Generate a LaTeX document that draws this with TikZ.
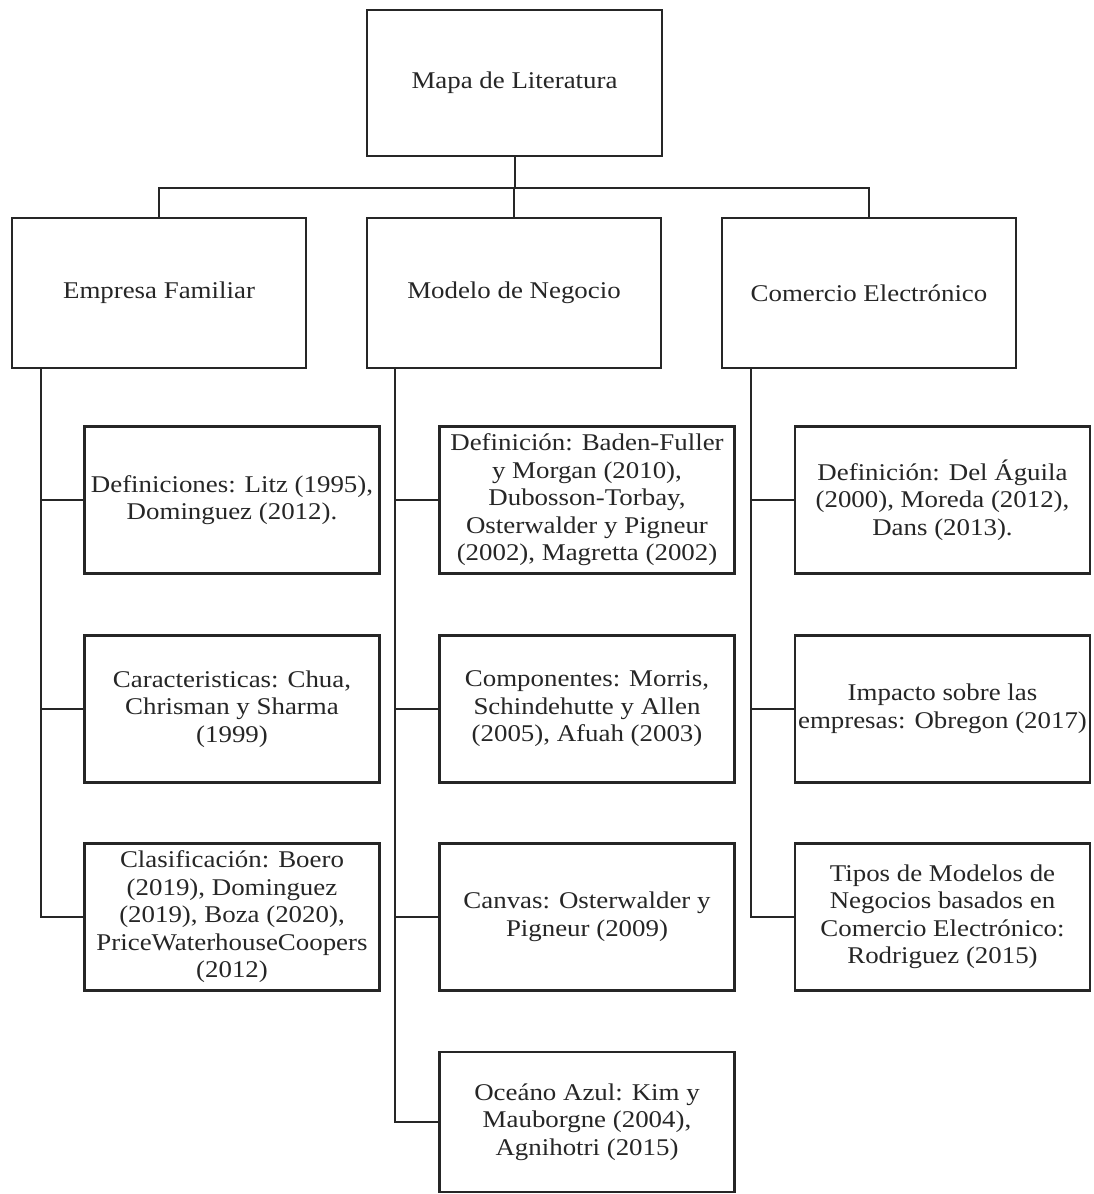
\documentclass[tikz,border=0pt]{standalone}
\usepackage{fontspec}
\setmainfont[FakeStretch=1.12]{Liberation Serif}
\begin{document}
\begin{tikzpicture}[x=1pt,y=-1pt,
  box/.style={draw=black!85, line width=2.2pt, fill=white, align=center, inner sep=0pt,
    font=\fontsize{24}{27.5}\selectfont, text=black!85},
  top/.style={box, minimum width=295pt, minimum height=146pt},
  head/.style={box, minimum width=294pt, minimum height=150pt},
  leaf/.style={box, minimum width=295pt, minimum height=147pt},
  link/.style={draw=black!85, line width=2pt}]
\useasboundingbox[fill=white] (0,0) rectangle (1094,1194);
\node[top] (root) at (514.5,83) {Mapa de Literatura};
\coordinate (bar) at (0,188);
\node[head] (emp) at (159,293) {Empresa Familiar};
\node[head] (mod) at (514,293) {Modelo de Negocio};
\node[head] (com) at (869,293) {Comercio Electrónico};
% column 1
\node[leaf] (e1) at (232,500) {Definiciones: Litz (1995),\\Dominguez (2012).};
\node[leaf] (e2) at (232,709) {Caracteristicas: Chua,\\Chrisman y Sharma\\(1999)};
\node[leaf] (e3) at (232,917) {Clasificación: Boero\\(2019), Dominguez\\(2019), Boza (2020),\\PriceWaterhouseCoopers\\(2012)};
% column 2
\node[leaf] (m1) at (587,500) {Definición: Baden-Fuller\\y Morgan (2010),\\Dubosson-Torbay,\\Osterwalder y Pigneur\\(2002), Magretta (2002)};
\node[leaf] (m2) at (587,709) {Componentes: Morris,\\Schindehutte y Allen\\(2005), Afuah (2003)};
\node[leaf] (m3) at (587,917) {Canvas: Osterwalder y\\Pigneur (2009)};
\node[leaf, minimum height=140pt] (m4) at (587,1122) {Oceáno Azul: Kim y\\Mauborgne (2004),\\Agnihotri (2015)};
% column 3
\node[leaf] (c1) at (942.5,500) {Definición: Del Águila\\(2000), Moreda (2012),\\Dans (2013).};
\node[leaf] (c2) at (942.5,709) {Impacto sobre las\\empresas: Obregon (2017)};
\node[leaf] (c3) at (942.5,917) {Tipos de Modelos de\\Negocios basados en\\Comercio Electrónico:\\Rodriguez (2015)};
% top connectors
\draw[link] (root.south) -- (root.south |- bar);
\draw[link] (emp.north) -- (emp.north |- bar) -- (com.north |- bar) -- (com.north);
\draw[link] (mod.north) -- (mod.north |- bar);
% trunks
\coordinate (te) at ([xshift=30pt]emp.south west);
\coordinate (tm) at ([xshift=29pt]mod.south west);
\coordinate (tc) at ([xshift=30pt]com.south west);
\draw[link] (te) |- (e3.west);
\draw[link] (e1.west) -- (e1.west -| te);
\draw[link] (e2.west) -- (e2.west -| te);
\draw[link] (tm) |- (m4.west);
\draw[link] (m1.west) -- (m1.west -| tm);
\draw[link] (m2.west) -- (m2.west -| tm);
\draw[link] (m3.west) -- (m3.west -| tm);
\draw[link] (tc) |- (c3.west);
\draw[link] (c1.west) -- (c1.west -| tc);
\draw[link] (c2.west) -- (c2.west -| tc);
\end{tikzpicture}
\end{document}
